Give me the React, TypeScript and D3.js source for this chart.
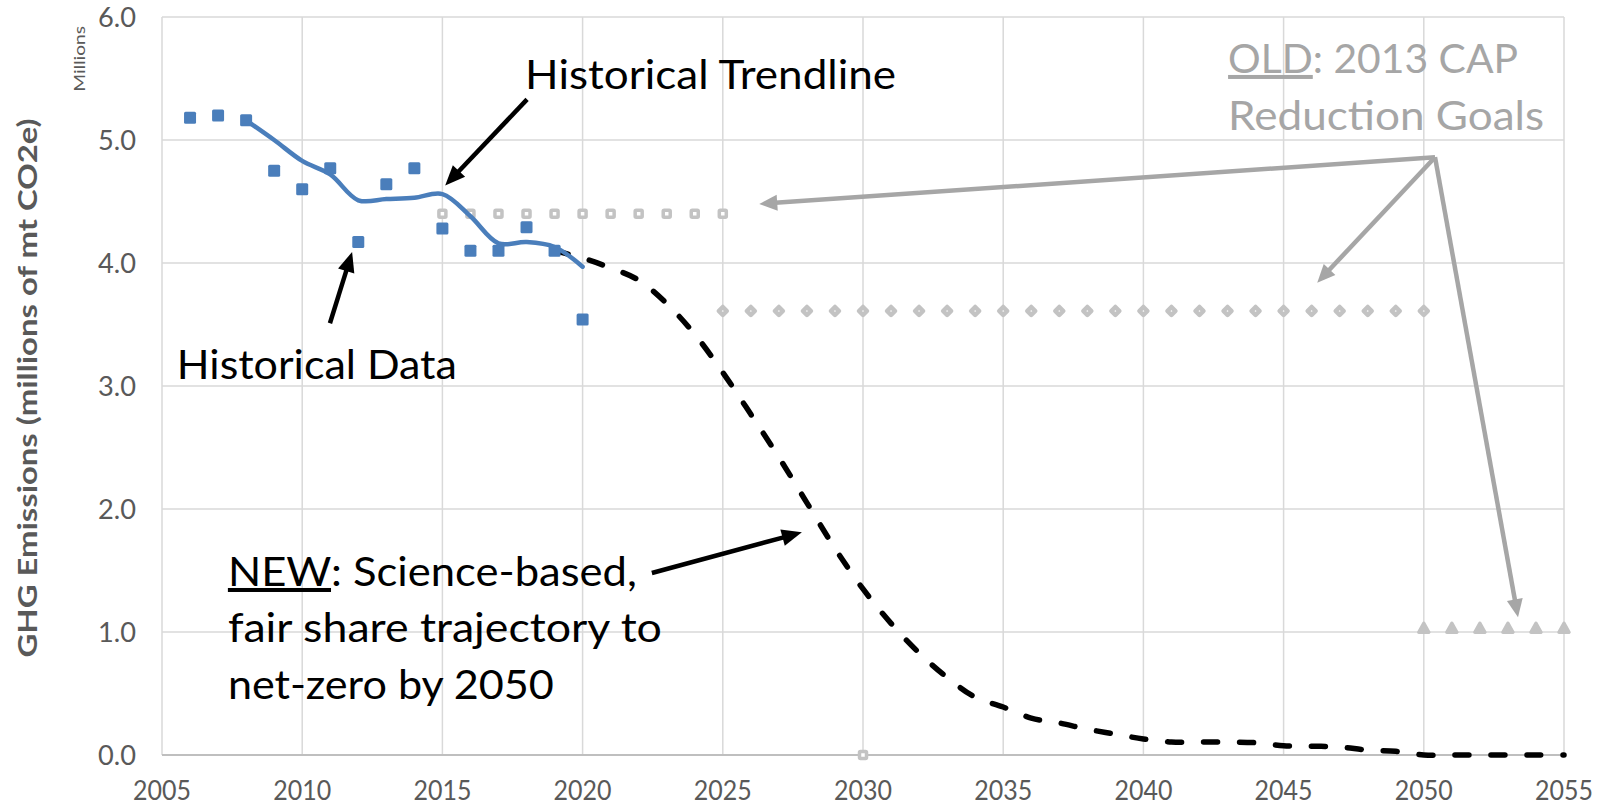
import React from "react";
import * as d3 from "d3";

// ---------- data ----------
const xTickValues = [2005, 2010, 2015, 2020, 2025, 2030, 2035, 2040, 2045, 2050, 2055];
const yTickValues = [0, 1, 2, 3, 4, 5, 6];

const histYears = [2006, 2007, 2008, 2009, 2010, 2011, 2012, 2013, 2014, 2015, 2016, 2017, 2018, 2019, 2020];
const histValues = [5.18, 5.2, 5.16, 4.75, 4.6, 4.77, 4.17, 4.64, 4.77, 4.28, 4.1, 4.1, 4.29, 4.1, 3.54];

const trendYears = [2008, 2009, 2010, 2011, 2012, 2013, 2014, 2015, 2016, 2017, 2018, 2019, 2020];
const trendValues = [5.16, 5.0, 4.83, 4.72, 4.51, 4.52, 4.53, 4.56, 4.38, 4.16, 4.17, 4.13, 3.97];

const newYears = [
  2019, 2020, 2021, 2022, 2023, 2024, 2025, 2026, 2027, 2028, 2029, 2030, 2031, 2032, 2033, 2034, 2035, 2036,
  2037, 2038, 2039, 2040, 2041, 2042, 2043, 2044, 2045, 2046, 2047, 2048, 2049, 2050, 2051, 2052, 2053, 2054, 2055,
];
const newValues = [
  4.1, 4.04, 3.96, 3.86, 3.67, 3.42, 3.11, 2.77, 2.42, 2.05, 1.68, 1.35, 1.07, 0.83, 0.63, 0.47, 0.39, 0.3,
  0.26, 0.21, 0.17, 0.13, 0.105, 0.105, 0.105, 0.1, 0.075, 0.072, 0.065, 0.04, 0.03, 0.0, 0.0, 0.0, 0.0, 0.0, 0.0,
];

const oldSquareYears = [2015, 2016, 2017, 2018, 2019, 2020, 2021, 2022, 2023, 2024, 2025, 2030];
const oldSquareValues = [4.4, 4.4, 4.4, 4.4, 4.4, 4.4, 4.4, 4.4, 4.4, 4.4, 4.4, 0.0];

const oldDiamondYears = [
  2025, 2026, 2027, 2028, 2029, 2030, 2031, 2032, 2033, 2034, 2035, 2036, 2037, 2038, 2039, 2040, 2041, 2042,
  2043, 2044, 2045, 2046, 2047, 2048, 2049, 2050,
];
const oldDiamondValues = [
  3.61, 3.61, 3.61, 3.61, 3.61, 3.61, 3.61, 3.61, 3.61, 3.61, 3.61, 3.61, 3.61, 3.61, 3.61, 3.61, 3.61, 3.61,
  3.61, 3.61, 3.61, 3.61, 3.61, 3.61, 3.61, 3.61,
];

const oldTriangleYears = [2050, 2051, 2052, 2053, 2054, 2055];
const oldTriangleValues = [1.03, 1.03, 1.03, 1.03, 1.03, 1.03];

// annotation arrows in data units: [fromYear, fromValue, toYear, toValue]
const grayArrows = [
  [2050.4, 4.86, 2026.3, 4.48],
  [2050.4, 4.86, 2046.2, 3.84],
  [2050.4, 4.86, 2053.36, 1.12],
];
const blackArrows = [
  [2018.02, 5.33, 2015.1, 4.63],
  [2010.99, 3.51, 2011.78, 4.09],
  [2022.47, 1.48, 2027.82, 1.81],
];

// ---------- layout ----------
const W = 1604;
const H = 806;
const FONT = "Lato, 'Open Sans', sans-serif";
const AXIS_GRAY = "#595959";
const BLUE = "#4a7ebb";
const OLD_GRAY = "#c3c3c3";
const ARROW_GRAY = "#a6a6a6";

const x = d3.scaleLinear().domain([2005, 2055]).range([162, 1564]);
const y = d3.scaleLinear().domain([0, 6]).range([755, 17]);

function arrow(x1: number, y1: number, x2: number, y2: number, len: number, half: number) {
  const dx = x2 - x1;
  const dy = y2 - y1;
  const d = Math.sqrt(dx * dx + dy * dy);
  const ux = dx / d;
  const uy = dy / d;
  const bx = x2 - ux * len;
  const by = y2 - uy * len;
  const px = -uy;
  const py = ux;
  return {
    line: { x1, y1, x2: bx + ux * 2, y2: by + uy * 2 },
    head: `M${x2},${y2}L${bx + px * half},${by + py * half}L${bx - px * half},${by - py * half}Z`,
  };
}

export default function App() {
  const trendLine = d3
    .line<number>()
    .x((_, i) => x(trendYears[i]))
    .y((d) => y(d))
    .curve(d3.curveCatmullRom.alpha(0.5))(trendValues);

  const newLine = d3
    .line<number>()
    .x((_, i) => x(newYears[i]))
    .y((d) => y(d))
    .curve(d3.curveCatmullRom.alpha(0.5))(newValues);

  return (
    <svg
      width={W}
      height={H}
      style={{ position: "absolute", left: 0, top: 0, background: "#fff" }}
      fontFamily={FONT}
    >
      <rect x={0} y={0} width={W} height={H} fill="#fff" />
      {/* gridlines */}
      {xTickValues.map((t) => (
        <line key={"gx" + t} x1={x(t)} x2={x(t)} y1={y(6)} y2={y(0)} stroke="#d9d9d9" strokeWidth={1.5} />
      ))}
      {yTickValues.map((t) => (
        <line
          key={"gy" + t}
          x1={x(2005)}
          x2={x(2055)}
          y1={y(t)}
          y2={y(t)}
          stroke={t === 0 ? "#bfbfbf" : "#d9d9d9"}
          strokeWidth={t === 0 ? 2 : 1.5}
        />
      ))}

      {/* tick labels */}
      {xTickValues.map((t) => (
        <text
          key={"xl" + t}
          x={x(t)}
          y={800}
          textAnchor="middle"
          fontSize={26}
          fill={AXIS_GRAY}
          textLength={58}
          lengthAdjust="spacingAndGlyphs"
        >
          {t}
        </text>
      ))}
      {yTickValues.map((t) => (
        <text
          key={"yl" + t}
          x={136}
          y={y(t) + 10}
          textAnchor="end"
          fontSize={27}
          fill={AXIS_GRAY}
          textLength={38}
          lengthAdjust="spacingAndGlyphs"
        >
          {t.toFixed(1)}
        </text>
      ))}

      {/* axis title */}
      <text
        transform={`translate(37,${y(3) + 2}) rotate(-90)`}
        textAnchor="middle"
        fontSize={27}
        fontWeight="bold"
        fill={AXIS_GRAY}
        textLength={539}
        lengthAdjust="spacingAndGlyphs"
      >
        GHG Emissions (millions of mt CO2e)
      </text>
      <text
        transform={`translate(85,${y(5.66)}) rotate(-90)`}
        textAnchor="middle"
        fontSize={15}
        fill={AXIS_GRAY}
        textLength={66}
        lengthAdjust="spacingAndGlyphs"
      >
        Millions
      </text>

      {/* old goal markers */}
      {oldSquareYears.map((yr, i) => (
        <rect
          key={"os" + i}
          x={x(yr) - 3.5}
          y={y(oldSquareValues[i]) - 3.5}
          width={7}
          height={7}
          rx={1}
          fill="#fff"
          stroke={OLD_GRAY}
          strokeWidth={3.5}
        />
      ))}
      {oldDiamondYears.map((yr, i) => {
        const cx = x(yr);
        const cy = y(oldDiamondValues[i]);
        const r = 4;
        return (
          <path
            key={"od" + i}
            d={`M${cx},${cy - r}L${cx + r},${cy}L${cx},${cy + r}L${cx - r},${cy}Z`}
            fill="#fff"
            stroke={OLD_GRAY}
            strokeWidth={4.5}
            strokeLinejoin="round"
          />
        );
      })}
      {oldTriangleYears.map((yr, i) => {
        const cx = x(yr);
        const cy = y(oldTriangleValues[i]);
        return (
          <path
            key={"ot" + i}
            d={`M${cx},${cy - 5}L${cx + 5},${cy + 4}L${cx - 5},${cy + 4}Z`}
            fill={OLD_GRAY}
            stroke={OLD_GRAY}
            strokeWidth={3.5}
            strokeLinejoin="round"
          />
        );
      })}

      {/* new trajectory */}
      <path
        d={newLine || ""}
        fill="none"
        stroke="#000"
        strokeWidth={5.5}
        strokeDasharray="14 22"
        strokeLinecap="round"
      />

      {/* historical trendline */}
      <path d={trendLine || ""} fill="none" stroke={BLUE} strokeWidth={4.5} strokeLinecap="round" />

      {/* historical data */}
      {histYears.map((yr, i) => (
        <rect
          key={"h" + i}
          x={x(yr) - 6}
          y={y(histValues[i]) - 6}
          width={12}
          height={12}
          rx={1.5}
          fill={BLUE}
        />
      ))}

      {/* arrows */}
      {grayArrows.map((a, i) => {
        const ar = arrow(x(a[0]), y(a[1]), x(a[2]), y(a[3]), 18, 8);
        return (
          <g key={"ga" + i}>
            <line {...ar.line} stroke={ARROW_GRAY} strokeWidth={4.5} />
            <path d={ar.head} fill={ARROW_GRAY} />
          </g>
        );
      })}
      {blackArrows.map((a, i) => {
        const ar = arrow(x(a[0]), y(a[1]), x(a[2]), y(a[3]), 20, 8.5);
        return (
          <g key={"ba" + i}>
            <line {...ar.line} stroke="#000" strokeWidth={4.5} />
            <path d={ar.head} fill="#000" />
          </g>
        );
      })}

      {/* annotation texts */}
      <text x={x(2017.95)} y={y(5.415)} fontSize={40} fill="#000" textLength={371} lengthAdjust="spacingAndGlyphs">
        Historical Trendline
      </text>
      <text x={x(2005.53)} y={y(3.06)} fontSize={40} fill="#000" textLength={280} lengthAdjust="spacingAndGlyphs">
        Historical Data
      </text>
      <text x={x(2007.35)} y={y(1.374)} fontSize={40} fill="#000" textLength={409} lengthAdjust="spacingAndGlyphs">
        <tspan style={{ textDecoration: "underline" }}>NEW</tspan>: Science-based,
      </text>
      <text x={x(2007.35)} y={y(0.917)} fontSize={40} fill="#000" textLength={434} lengthAdjust="spacingAndGlyphs">
        fair share trajectory to
      </text>
      <text x={x(2007.35)} y={y(0.455)} fontSize={40} fill="#000" textLength={326} lengthAdjust="spacingAndGlyphs">
        net-zero by 2050
      </text>
      <text x={x(2043.02)} y={y(5.545)} fontSize={40} fill={ARROW_GRAY} textLength={290} lengthAdjust="spacingAndGlyphs">
        <tspan style={{ textDecoration: "underline" }}>OLD</tspan>: 2013 CAP
      </text>
      <text x={x(2043.02)} y={y(5.08)} fontSize={40} fill={ARROW_GRAY} textLength={316} lengthAdjust="spacingAndGlyphs">
        Reduction Goals
      </text>
    </svg>
  );
}
